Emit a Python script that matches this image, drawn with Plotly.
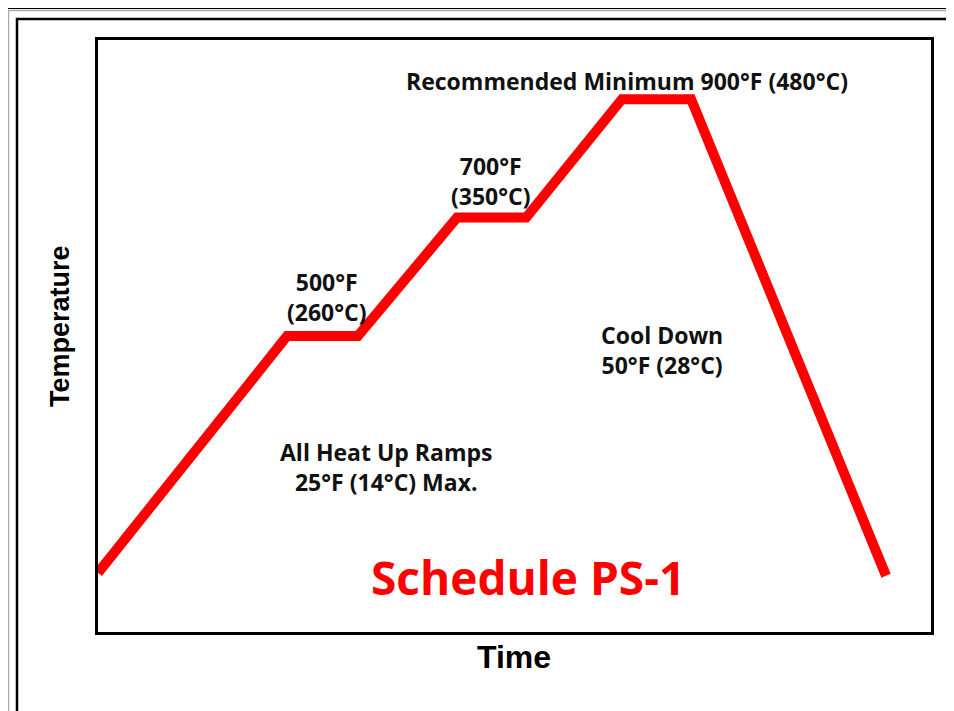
import plotly.graph_objects as go

# Data: time in arbitrary units, temperature in °F
time_pts = [0, 22.7, 31.2, 43.1, 51.4, 62.9, 71.2, 94.6]
temp_pts = [100, 500, 500, 700, 700, 900, 900, 95]

x_range = [0, 100]
y_range = [0, 1000]

# Annotation texts and their data positions
labels = ["Recommended Minimum 900°F (480°C)", "700°F<br>(350°C)", "500°F<br>(260°C)",
          "All Heat Up Ramps<br>25°F (14°C) Max.", "Cool Down<br>50°F (28°C)"]
label_x = [63.5, 47.2, 27.5, 34.6, 67.7]
label_y = [931, 762, 566, 279, 476]

title_text = "Schedule PS-1"
title_x, title_y = 51.6, 93

# Page geometry (the page body adds an 8 px offset)
OFF = 8
W, H = 954 - OFF, 711 - OFF
L, R, T, B = 98 - OFF, 931 - OFF, 40 - OFF, 632 - OFF


def px_x(p):
    return (p - OFF - L) / (R - L)


def px_y(p):
    return (B - (p - OFF)) / (B - T)


fig = go.Figure()
fig.add_trace(go.Scatter(x=time_pts, y=temp_pts, mode="lines",
                         line=dict(color="#ff0000", width=10),
                         hoverinfo="skip", showlegend=False))

label_font = dict(family="'Open Sans', Lato, sans-serif", size=23, color="#111111")
for t, x, y in zip(labels, label_x, label_y):
    fig.add_annotation(x=x, y=y, xref="x", yref="y", text="<b>" + t + "</b>",
                       showarrow=False, font=label_font, align="center",
                       xanchor="center", yanchor="middle")

fig.add_annotation(x=title_x, y=title_y, xref="x", yref="y",
                   text="<b>" + title_text + "</b>", showarrow=False,
                   font=dict(family="'Open Sans', Lato, sans-serif", size=46, color="#ff0000"),
                   xanchor="center", yanchor="middle")

# Axis titles
fig.add_annotation(x=px_x(514), y=px_y(657), xref="paper", yref="paper",
                   text="<b>Time</b>", showarrow=False,
                   font=dict(family="Arial, 'Liberation Sans', sans-serif", size=32, color="#000000"),
                   xanchor="center", yanchor="middle")
fig.add_annotation(x=px_x(60), y=px_y(326), xref="paper", yref="paper",
                   text="<b>Temperature</b>", showarrow=False, textangle=-90,
                   font=dict(family="Arial, 'Liberation Sans', sans-serif", size=27, color="#000000"),
                   xanchor="center", yanchor="middle")

# Decorative outer frames
fig.add_shape(type="rect", xref="paper", yref="paper",
              x0=px_x(8.5), x1=px_x(1000), y0=px_y(800), y1=px_y(10.5),
              line=dict(color="#aaaaaa", width=1.5), layer="below")
fig.add_shape(type="rect", xref="paper", yref="paper",
              x0=px_x(6), x1=px_x(1000), y0=px_y(800), y1=px_y(8),
              line=dict(color="#000000", width=2), layer="below")
fig.add_shape(type="rect", xref="paper", yref="paper",
              x0=px_x(17), x1=px_x(948), y0=px_y(800), y1=px_y(19),
              line=dict(color="#000000", width=2.5), layer="below")

axis_common = dict(showgrid=False, zeroline=False, showticklabels=False, ticks="",
                   showline=True, linecolor="#000000", linewidth=3, mirror=True,
                   fixedrange=True)
fig.update_xaxes(range=x_range, **axis_common)
fig.update_yaxes(range=y_range, **axis_common)

fig.update_layout(width=W, height=H, margin=dict(l=L, r=W - R, t=T, b=H - B),
                  paper_bgcolor="white", plot_bgcolor="white", showlegend=False)

fig.write_html("out.html")
